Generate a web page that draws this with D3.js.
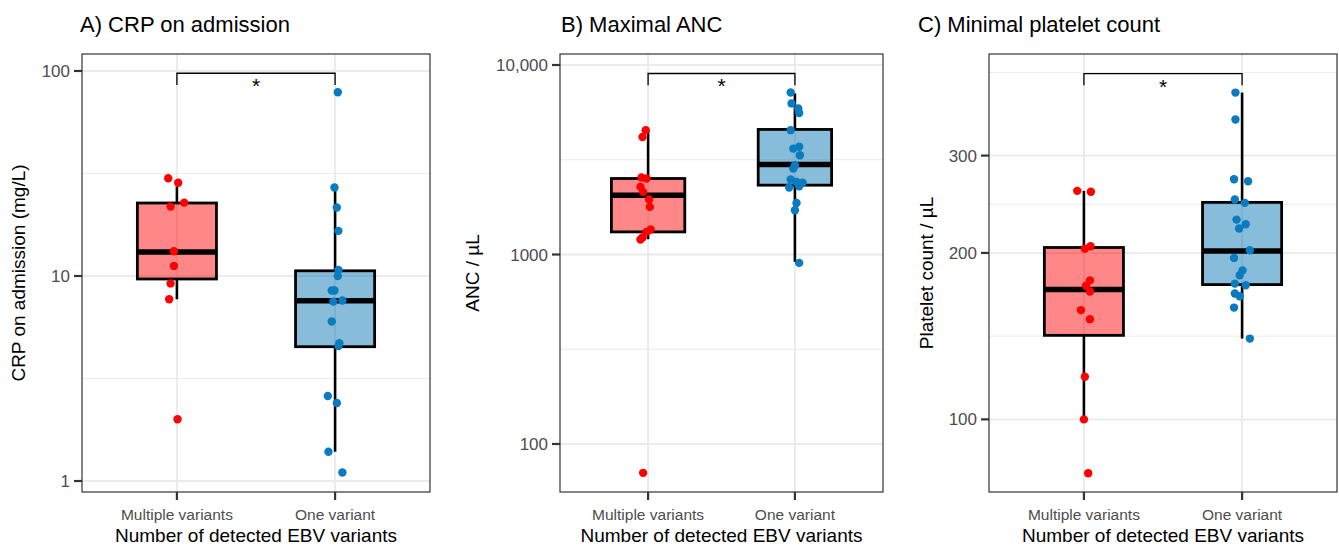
<!DOCTYPE html>
<html>
<head>
<meta charset="utf-8">
<script src="https://cdn.jsdelivr.net/npm/d3@7/dist/d3.min.js"></script>
<style>
  body { margin: 0; background: #fff; }
  svg { display: block; }
  text { font-family: "Liberation Sans", Arial, Helvetica, sans-serif; }
</style>
</head>
<body>
<svg id="figura" width="1339" height="546"></svg>
<script>
/*═══════════════════════════════════════════════════════════════
  DATOS

  Tres paneles: CRP, ANC máximo y plaquetas mínimas.
  Cada grupo tiene sus valores (puntos) y un desplazamiento
  horizontal (jitter), más las estadísticas
  de la caja: [q1, mediana, q3, bigote inferior, bigote superior].
═══════════════════════════════════════════════════════════════*/
const categorias = ["Multiple variants", "One variant"];
const titulosPaneles = ["A) CRP on admission", "B) Maximal ANC", "C) Minimal platelet count"];
const titulosEjeY = ["CRP on admission (mg/L)", "ANC / µL", "Platelet count / µL"];
const tituloEjeX = "Number of detected EBV variants";

// A) CRP
const crpMultiples       = [30.0, 28.5, 22.8, 21.8, 13.2, 11.2, 9.2, 7.7, 2.0];
const crpMultiplesJitter = [-0.055, 0.008, 0.046, -0.040, -0.019, -0.019, -0.040, -0.049, 0.004];
const crpUna             = [78.7, 27.0, 21.6, 16.6, 10.7, 10.0, 8.5, 8.5, 7.5, 7.6, 6.0, 4.7, 4.55, 2.6, 2.4, 1.39, 1.10];
const crpUnaJitter       = [0.017, -0.004, 0.011, 0.021, 0.021, 0.017, -0.021, -0.004, -0.011, 0.046, -0.021, 0.027, 0.021, -0.046, 0.011, -0.042, 0.046];
const crpCajas           = [[9.67, 13.1, 22.7, 7.7, 27.3], [4.52, 7.58, 10.6, 1.39, 27.0]];
const crpTicks           = [1, 10, 100];
const crpEtiquetas       = ["1", "10", "100"];

// B) ANC
const ancMultiples       = [4530, 4170, 2550, 2520, 2275, 2140, 1950, 1783, 1355, 1316, 1200, 1230, 70.4];
const ancMultiplesJitter = [-0.016, -0.038, -0.045, -0.011, -0.052, -0.034, 0.007, 0.012, 0.018, -0.011, -0.052, -0.038, -0.034];
const ancUna             = [7160, 6270, 5900, 5580, 4530, 3620, 3700, 3340, 2960, 2840, 2490, 2415, 2390, 2290, 2255, 1870, 1713, 903];
const ancUnaJitter       = [-0.029, -0.023, 0.023, 0.029, -0.029, -0.011, 0.029, 0.034, 0, -0.011, -0.029, 0.011, 0.052, 0.029, -0.039, 0.011, 0, 0.029];
const ancCajas           = [[1316, 2055, 2518, 1204, 4530], [2322, 2985, 4570, 914, 7080]];
const ancTicks           = [100, 1000, 10000];
const ancEtiquetas       = ["100", "1000", "10,000"];

// C) Plaquetas
const plqMultiples       = [259, 258, 203.6, 205.6, 178.4, 174.5, 170.3, 157.6, 151.8, 119.4, 100, 79.9];
const plqMultiplesJitter = [-0.042, 0.044, 0.006, 0.042, 0.038, 0.013, 0.038, -0.019, 0.038, 0.006, 0, 0.027];
const plqUna             = [390, 348.6, 271.8, 269.6, 249.8, 246.4, 229.8, 225.4, 221.5, 202.3, 195.9, 186.0, 182.3, 176.0, 174.8, 168.9, 167.0, 159.3, 140.0];
const plqUnaJitter       = [-0.042, -0.042, -0.051, 0.038, -0.046, 0.017, -0.035, 0.023, -0.019, 0.049, -0.051, 0.003, -0.015, -0.046, 0.023, -0.046, -0.015, -0.051, 0.049];
const plqCajas           = [[141.9, 171.7, 204.6, 100, 259], [175.3, 201.7, 246.9, 140, 390]];
const plqTicks           = [100, 200, 300];
const plqEtiquetas       = ["100", "200", "300"];

// corchete de significación: [nivel de la barra, extremo de las patas]
const corchetes = [[97.5, 85.5], [9020, 7815], [422, 402]];
const significancia = "*";

/*═══════════════════════════════════════════════════════════════
  CONFIGURACIÓN DE PANELES
═══════════════════════════════════════════════════════════════*/
const colores = ["#FF0000", "#0A7BBE"];
const rellenos = ["#FF0000", "#0072B2"];
const arriba = 54, abajo = 492;

const paneles = [
  { x0: 82,  x1: 430,  dominio: [0.884, 121],  tituloX: 80,  ejeYX: 25,
    puntos: [crpMultiples, crpUna], jitter: [crpMultiplesJitter, crpUnaJitter],
    cajas: crpCajas, ticks: crpTicks, etiquetas: crpEtiquetas },
  { x0: 560, x1: 883,  dominio: [55.8, 11430], tituloX: 561, ejeYX: 479,
    puntos: [ancMultiples, ancUna], jitter: [ancMultiplesJitter, ancUnaJitter],
    cajas: ancCajas, ticks: ancTicks, etiquetas: ancEtiquetas },
  { x0: 989, x1: 1337, dominio: [73.9, 458],   tituloX: 918, ejeYX: 933,
    puntos: [plqMultiples, plqUna], jitter: [plqMultiplesJitter, plqUnaJitter],
    cajas: plqCajas, ticks: plqTicks, etiquetas: plqEtiquetas }
];

const svg = d3.select("#figura");

/* líneas secundarias: puntos medios (en escala log) entre cortes,
   extendiendo un corte a cada lado como hace ggplot */
function cortesMenores(ticks) {
  const l = ticks.map(Math.log10);
  const paso = l[1] - l[0];
  const ext = [l[0] - paso, ...l, l[l.length - 1] + paso];
  const res = [];
  for (let i = 0; i < ext.length - 1; i++) res.push(Math.pow(10, (ext[i] + ext[i + 1]) / 2));
  return res;
}

paneles.forEach((p, k) => {
  const g = svg.append("g");

  const x = d3.scaleLinear().domain([0.4, 2.6]).range([p.x0, p.x1]);
  const y = d3.scaleLog().domain(p.dominio).range([abajo, arriba]);
  const enRango = v => v >= p.dominio[0] && v <= p.dominio[1];
  const ancho = x(1.25) - x(0.75);

  /* fondo de grilla */
  g.append("g").selectAll("line")
    .data(cortesMenores(p.ticks).filter(enRango))
    .join("line")
    .attr("x1", p.x0).attr("x2", p.x1)
    .attr("y1", d => y(d)).attr("y2", d => y(d))
    .attr("stroke", "#EBEBEB").attr("stroke-width", 1);

  g.append("g").selectAll("line")
    .data(p.ticks.filter(enRango))
    .join("line")
    .attr("x1", p.x0).attr("x2", p.x1)
    .attr("y1", d => y(d)).attr("y2", d => y(d))
    .attr("stroke", "#EBEBEB").attr("stroke-width", 2);

  g.append("g").selectAll("line")
    .data([1, 2])
    .join("line")
    .attr("x1", d => x(d)).attr("x2", d => x(d))
    .attr("y1", arriba).attr("y2", abajo)
    .attr("stroke", "#EBEBEB").attr("stroke-width", 2);

  /* cajas */
  p.cajas.forEach((c, i) => {
    const [q1, med, q3, lo, hi] = c;
    const cx = x(i + 1);
    g.append("line")
      .attr("x1", cx).attr("x2", cx).attr("y1", y(q3)).attr("y2", y(hi))
      .attr("stroke", "#000").attr("stroke-width", 2.6);
    g.append("line")
      .attr("x1", cx).attr("x2", cx).attr("y1", y(q1)).attr("y2", y(lo))
      .attr("stroke", "#000").attr("stroke-width", 2.6);
    g.append("rect")
      .attr("x", cx - ancho / 2).attr("width", ancho)
      .attr("y", y(q3)).attr("height", y(q1) - y(q3))
      .attr("fill", rellenos[i]).attr("fill-opacity", 0.47)
      .attr("stroke", "#000").attr("stroke-width", 2.8);
    g.append("line")
      .attr("x1", cx - ancho / 2).attr("x2", cx + ancho / 2)
      .attr("y1", y(med)).attr("y2", y(med))
      .attr("stroke", "#000").attr("stroke-width", 5.5);
  });

  /* puntos con jitter */
  p.puntos.forEach((vals, i) => {
    g.append("g").selectAll("circle")
      .data(vals.map((v, j) => ({ v, dx: p.jitter[i][j] })))
      .join("circle")
      .attr("cx", d => x(i + 1 + d.dx))
      .attr("cy", d => y(d.v))
      .attr("r", 4.2)
      .attr("fill", colores[i]);
  });

  /* corchete de significación */
  const [nivel, pata] = corchetes[k];
  g.append("path")
    .attr("d", d3.line()([[x(1), y(pata)], [x(1), y(nivel)], [x(2), y(nivel)], [x(2), y(pata)]]))
    .attr("fill", "none").attr("stroke", "#000").attr("stroke-width", 1.3);
  g.append("text")
    .attr("x", x(1.5)).attr("y", y(nivel) + 20)
    .attr("text-anchor", "middle")
    .attr("font-size", "21px")
    .attr("fill", "#000")
    .text(significancia);

  /* borde del panel */
  g.append("rect")
    .attr("x", p.x0).attr("y", arriba)
    .attr("width", p.x1 - p.x0).attr("height", abajo - arriba)
    .attr("fill", "none").attr("stroke", "#333").attr("stroke-width", 1.2);

  /* eje Y */
  const ejeY = g.append("g");
  ejeY.selectAll("line")
    .data(p.ticks.filter(enRango))
    .join("line")
    .attr("x1", p.x0 - 8).attr("x2", p.x0)
    .attr("y1", d => y(d)).attr("y2", d => y(d))
    .attr("stroke", "#333").attr("stroke-width", 2.2);
  ejeY.selectAll("text")
    .data(p.ticks.map((t, j) => ({ t, etiqueta: p.etiquetas[j] })).filter(d => enRango(d.t)))
    .join("text")
    .attr("x", p.x0 - 12).attr("y", d => y(d.t))
    .attr("dy", "0.36em")
    .attr("text-anchor", "end")
    .attr("font-size", "17px")
    .attr("fill", "#4D4D4D")
    .text(d => d.etiqueta);

  /* eje X */
  const ejeX = g.append("g");
  ejeX.selectAll("line")
    .data(categorias)
    .join("line")
    .attr("x1", (d, i) => x(i + 1)).attr("x2", (d, i) => x(i + 1))
    .attr("y1", abajo).attr("y2", abajo + 8)
    .attr("stroke", "#333").attr("stroke-width", 2.2);
  ejeX.selectAll("text")
    .data(categorias)
    .join("text")
    .attr("x", (d, i) => x(i + 1)).attr("y", 520)
    .attr("text-anchor", "middle")
    .attr("font-size", "15.5px")
    .attr("fill", "#4D4D4D")
    .text(d => d);

  /* títulos */
  g.append("text")
    .attr("x", (p.x0 + p.x1) / 2).attr("y", 542)
    .attr("text-anchor", "middle")
    .attr("font-size", "19px")
    .attr("fill", "#000")
    .text(tituloEjeX);

  g.append("text")
    .attr("transform", `translate(${p.ejeYX},${(arriba + abajo) / 2}) rotate(-90)`)
    .attr("text-anchor", "middle")
    .attr("font-size", "19px")
    .attr("fill", "#000")
    .text(titulosEjeY[k]);

  g.append("text")
    .attr("x", p.tituloX).attr("y", 32)
    .attr("font-size", "22px")
    .attr("fill", "#000")
    .text(titulosPaneles[k]);
});
</script>
</body>
</html>
